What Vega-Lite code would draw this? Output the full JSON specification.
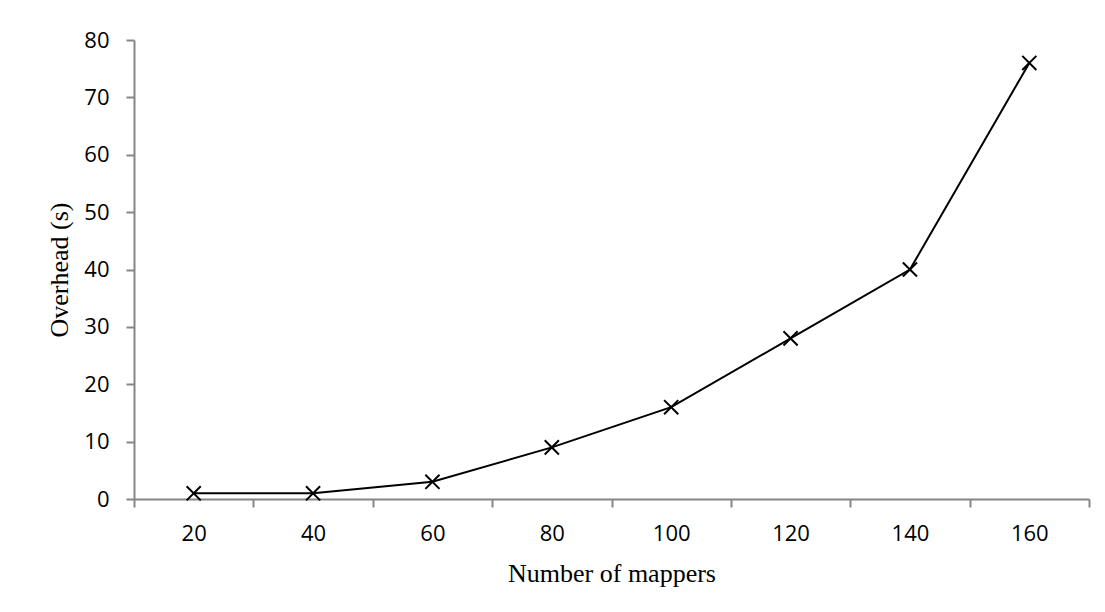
{
  "$schema": "https://vega.github.io/schema/vega-lite/v6.json",
  "autosize": {"type": "none"},
  "padding": {"left": 134, "top": 40, "right": 16, "bottom": 113},
  "width": 955,
  "height": 459,
  "background": "white",
  "config": {
    "view": {"stroke": null},
    "axis": {
      "domainColor": "#868686",
      "domainWidth": 2,
      "tickColor": "#868686",
      "tickWidth": 2,
      "tickSize": 8,
      "grid": false,
      "labelFont": "Open Sans",
      "labelFontSize": 22,
      "labelColor": "#000000",
      "titleFont": "Liberation Serif",
      "titleFontSize": 26,
      "titleFontWeight": "normal",
      "titleColor": "#000000"
    }
  },
  "data": {
    "values": [
      {"mappers": "20", "overhead": 1},
      {"mappers": "40", "overhead": 1},
      {"mappers": "60", "overhead": 3},
      {"mappers": "80", "overhead": 9},
      {"mappers": "100", "overhead": 16},
      {"mappers": "120", "overhead": 28},
      {"mappers": "140", "overhead": 40},
      {"mappers": "160", "overhead": 76}
    ]
  },
  "encoding": {
    "x": {
      "field": "mappers",
      "type": "ordinal",
      "sort": null,
      "scale": {"type": "band", "paddingInner": 0, "paddingOuter": 0},
      "axis": {
        "title": "Number of mappers",
        "labelAngle": 0,
        "tickBand": "extent",
        "labelPadding": 16,
        "titlePadding": 16
      }
    },
    "y": {
      "field": "overhead",
      "type": "quantitative",
      "scale": {"domain": [0, 80], "nice": false},
      "axis": {
        "title": "Overhead (s)",
        "values": [0, 10, 20, 30, 40, 50, 60, 70, 80],
        "labelPadding": 17,
        "titlePadding": 11
      }
    }
  },
  "layer": [
    {
      "mark": {"type": "line", "color": "#000000", "strokeWidth": 2}
    },
    {
      "mark": {
        "type": "point",
        "shape": "M-1,-1L1,1M1,-1L-1,1",
        "filled": false,
        "stroke": "#000000",
        "strokeWidth": 2,
        "size": 200,
        "opacity": 1
      }
    }
  ]
}
